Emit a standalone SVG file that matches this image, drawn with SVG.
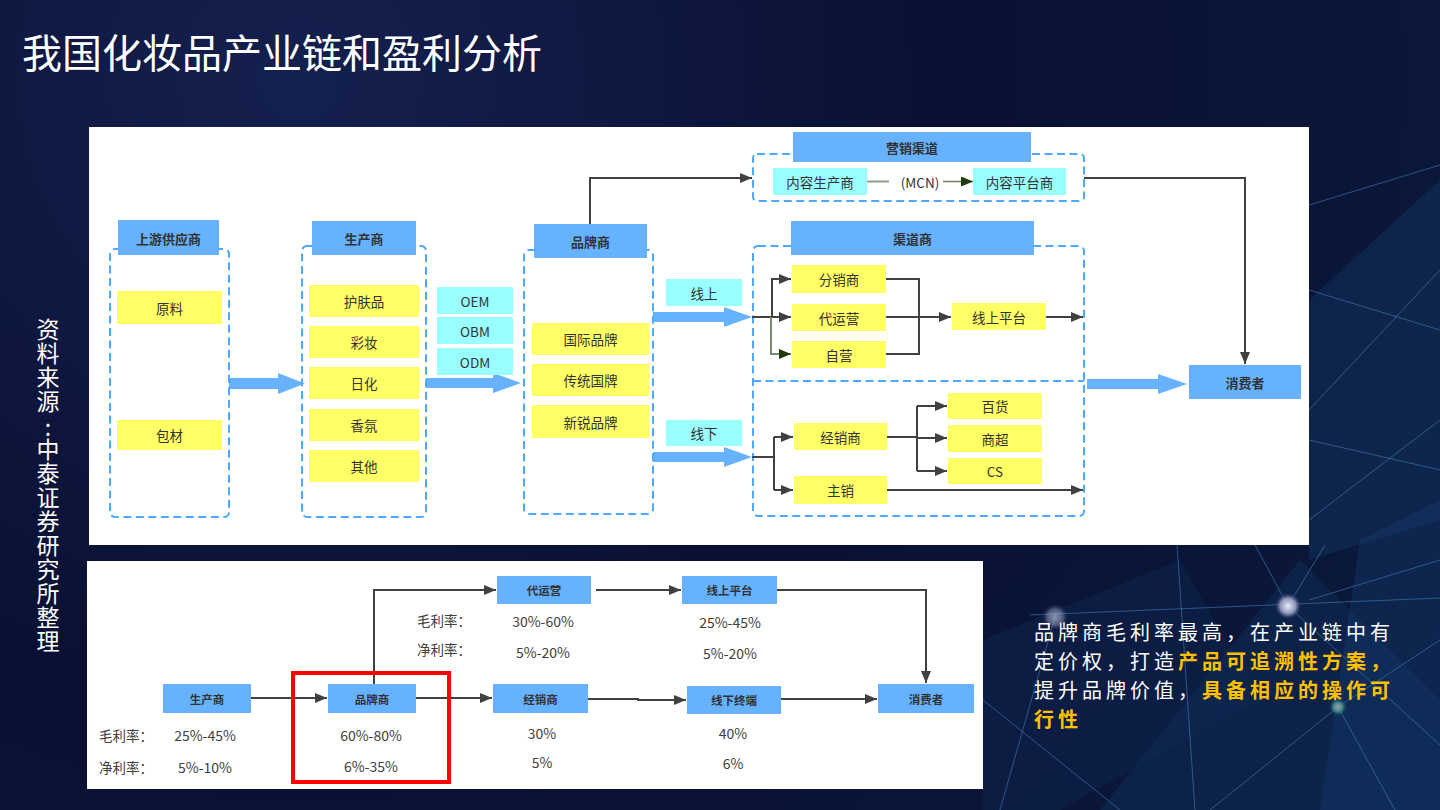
<svg xmlns="http://www.w3.org/2000/svg" width="1440" height="810" viewBox="0 0 1440 810">
<defs>
<radialGradient id="bg" cx="300" cy="80" r="1300" gradientUnits="userSpaceOnUse">
<stop offset="0" stop-color="#14204e"/>
<stop offset="0.5" stop-color="#0a1033"/>
<stop offset="1" stop-color="#0a1a3c"/>
</radialGradient>
<radialGradient id="glowW" cx="0.5" cy="0.5" r="0.5">
<stop offset="0" stop-color="#e8eef8"/>
<stop offset="0.6" stop-color="#8a93b8"/>
<stop offset="1" stop-color="#3a4270" stop-opacity="0"/>
</radialGradient>
<radialGradient id="glowT" cx="0.5" cy="0.5" r="0.5">
<stop offset="0" stop-color="#b09aa0"/>
<stop offset="0.5" stop-color="#3a8a90"/>
<stop offset="1" stop-color="#1a4a60" stop-opacity="0"/>
</radialGradient>
<marker id="ah" viewBox="0 0 12 10" refX="12" refY="5" markerWidth="12" markerHeight="10" markerUnits="userSpaceOnUse" orient="auto">
<path d="M0,0 L12,5 L0,10 z" fill="#404040"/>
</marker>
<marker id="ahg" viewBox="0 0 12 10" refX="12" refY="5" markerWidth="12" markerHeight="10" markerUnits="userSpaceOnUse" orient="auto">
<path d="M0,0 L12,5 L0,10 z" fill="#1f3a08"/>
</marker>
</defs>
<style>
.t{font-family:"Noto Sans CJK SC","Noto Sans",sans-serif;}
.vt{font-family:"Noto Sans CJK SC","Noto Sans",sans-serif;font-size:23px;fill:#ffffff;writing-mode:vertical-rl;text-orientation:upright;letter-spacing:1px;}
.lbl{font-family:"Noto Sans CJK SC","Noto Sans",sans-serif;font-size:13.5px;fill:#333;text-anchor:middle;dominant-baseline:central;}
.hd{font-family:"Noto Sans CJK SC","Noto Sans",sans-serif;font-size:13px;font-weight:bold;fill:#333;text-anchor:middle;dominant-baseline:central;}
.hd2{font-family:"Noto Sans CJK SC","Noto Sans",sans-serif;font-size:11.5px;font-weight:bold;fill:#333;text-anchor:middle;dominant-baseline:central;}
.val{font-family:"Noto Sans CJK SC","Noto Sans",sans-serif;font-size:14px;fill:#404040;text-anchor:middle;dominant-baseline:central;}
.key{font-family:"Noto Sans CJK SC","Noto Sans",sans-serif;font-size:13.5px;fill:#404040;dominant-baseline:central;}
.hdr{fill:#66b2ff;}
.yel{fill:#ffff66;}
.cyn{fill:#99ffff;}
.dash{fill:none;stroke:#4fa8ff;stroke-width:2;stroke-dasharray:8 4.5;}
.blk{fill:#66b2ff;}
.c{fill:none;stroke:#404040;stroke-width:2;}
.bgl{stroke:#4a86c0;stroke-width:1;opacity:0.55;fill:none;}
.cl{font-family:"Noto Sans CJK SC","Noto Sans",sans-serif;font-size:20px;letter-spacing:4px;fill:#ffffff;}
.hl{fill:#ffc000;font-weight:bold;}
</style>

<!-- background -->
<rect x="0" y="0" width="1440" height="810" fill="url(#bg)"/>
<g id="background-decor">
<polygon points="1309,300 1440,180 1440,520 1309,560" fill="#1c4a82" opacity="0.25"/>
<polygon points="1360,540 1440,500 1440,810 1320,810" fill="#1a4a86" opacity="0.25"/>
<polygon points="1100,810 1300,560 1440,700 1440,810" fill="#143a6e" opacity="0.3"/>
<polygon points="983,640 1180,560 1260,700 1060,810 983,810" fill="#112a5a" opacity="0.35"/>
<line class="bgl" x1="1030" y1="615" x2="1440" y2="598"/>
<line class="bgl" x1="1288" y1="606" x2="1255" y2="545"/>
<line class="bgl" x1="1288" y1="606" x2="1325" y2="545"/>
<line class="bgl" x1="1288" y1="606" x2="1440" y2="745"/>
<line class="bgl" x1="1177" y1="545" x2="1195" y2="810"/>
<line class="bgl" x1="1338" y1="707" x2="1210" y2="810"/>
<line class="bgl" x1="1338" y1="707" x2="1395" y2="810"/>
<line class="bgl" x1="1338" y1="707" x2="1440" y2="640"/>
<line class="bgl" x1="983" y1="700" x2="1120" y2="810"/>
<line class="bgl" x1="1055" y1="617" x2="1000" y2="810"/>
<line class="bgl" x1="1309" y1="410" x2="1440" y2="270"/>
<line class="bgl" x1="1309" y1="205" x2="1440" y2="165"/>
<line class="bgl" x1="1309" y1="520" x2="1440" y2="420"/>
<line class="bgl" x1="1309" y1="290" x2="1440" y2="330"/>
<line class="bgl" x1="1309" y1="600" x2="1440" y2="560"/>
<line class="bgl" x1="1309" y1="440" x2="1440" y2="470"/>
<circle cx="1288" cy="606" r="13" fill="url(#glowW)"/>
<circle cx="1055" cy="617" r="13" fill="url(#glowW)" opacity="0.55"/>
<circle cx="1338" cy="707" r="9" fill="url(#glowT)"/>
</g>

<!-- title and source -->
<text class="t" x="22" y="68" font-size="40" fill="#ffffff">我国化妆品产业链和盈利分析</text>
<g id="source">
<text class="vt" x="48" y="318">资料来源</text>
<text class="t" x="48" y="426" font-size="23" fill="#ffffff" text-anchor="middle" dominant-baseline="central">:</text>
<text class="vt" x="48" y="438">中泰证券研究所整理</text>
</g>

<!-- top panel -->
<rect x="89" y="127" width="1220" height="418" fill="#ffffff"/>

<g id="block-arrows">
<polygon class="blk" points="229,378 278,378 278,373 305,383.5 278,394 278,389 229,389"/>
<polygon class="blk" points="426,378 493,378 493,373 521,383 493,393 493,388 426,388"/>
<polygon class="blk" points="653,312 724,312 724,307 752,317 724,327 724,322 653,322"/>
<polygon class="blk" points="653,452 724,452 724,447 752,457 724,467 724,462 653,462"/>
<polygon class="blk" points="1087,379 1158,379 1158,374 1187,384 1158,394 1158,389 1087,389"/>
</g>

<g id="supplier">
<rect class="dash" x="110" y="249" width="119" height="268" rx="5"/>
<rect class="hdr" x="118" y="220" width="101" height="35"/>
<text class="hd" x="168.5" y="238">上游供应商</text>
<rect class="yel" x="117" y="291" width="105" height="33"/>
<text class="lbl" x="169.5" y="307.5">原料</text>
<rect class="yel" x="117" y="420" width="105" height="30"/>
<text class="lbl" x="169.5" y="435">包材</text>
</g>

<g id="manufacturer">
<rect class="dash" x="302" y="246" width="124" height="271" rx="5"/>
<rect class="hdr" x="312" y="221" width="104" height="34"/>
<text class="hd" x="364" y="238">生产商</text>
<rect class="yel" x="309" y="285" width="110" height="32"/>
<text class="lbl" x="364" y="301">护肤品</text>
<rect class="yel" x="309" y="326" width="110" height="32"/>
<text class="lbl" x="364" y="342">彩妆</text>
<rect class="yel" x="309" y="367" width="110" height="32"/>
<text class="lbl" x="364" y="383">日化</text>
<rect class="yel" x="309" y="409" width="110" height="32"/>
<text class="lbl" x="364" y="425">香氛</text>
<rect class="yel" x="309" y="450" width="110" height="32"/>
<text class="lbl" x="364" y="466">其他</text>
</g>

<g id="oem-modes">
<rect class="cyn" x="437" y="287" width="76" height="27"/>
<text class="lbl" x="475" y="300.5" font-size="14">OEM</text>
<rect class="cyn" x="437" y="317" width="76" height="27"/>
<text class="lbl" x="475" y="330.5" font-size="14">OBM</text>
<rect class="cyn" x="437" y="348" width="76" height="27"/>
<text class="lbl" x="475" y="361.5" font-size="14">ODM</text>
</g>

<g id="brand">
<rect class="dash" x="524" y="250" width="129" height="264" rx="5"/>
<rect class="hdr" x="534" y="224" width="113" height="34"/>
<text class="hd" x="590.5" y="241">品牌商</text>
<rect class="yel" x="532" y="323" width="117" height="32"/>
<text class="lbl" x="590.5" y="339">国际品牌</text>
<rect class="yel" x="532" y="364" width="117" height="32"/>
<text class="lbl" x="590.5" y="380">传统国牌</text>
<rect class="yel" x="532" y="405" width="117" height="33"/>
<text class="lbl" x="590.5" y="421.5">新锐品牌</text>
</g>

<g id="online-offline-tags">
<rect class="cyn" x="666" y="279" width="76" height="27"/>
<text class="lbl" x="704" y="292.5">线上</text>
<rect class="cyn" x="666" y="420" width="76" height="26"/>
<text class="lbl" x="704" y="433">线下</text>
</g>

<g id="marketing">
<rect class="dash" x="753" y="154" width="331" height="47" rx="4"/>
<rect class="hdr" x="793" y="132" width="238" height="30"/>
<text class="hd" x="912" y="147">营销渠道</text>
<rect class="cyn" x="773" y="168" width="94" height="27"/>
<text class="lbl" x="820" y="181.5">内容生产商</text>
<text class="lbl" x="920" y="182" font-size="14">(MCN)</text>
<rect class="cyn" x="973" y="168" width="93" height="27"/>
<text class="lbl" x="1019.5" y="181.5">内容平台商</text>
</g>

<g id="channel">
<rect class="dash" x="753" y="246" width="331" height="270" rx="5"/>
<line class="dash" x1="753" y1="381" x2="1084" y2="381"/>
<rect class="hdr" x="791" y="221" width="243" height="34"/>
<text class="hd" x="912.5" y="238">渠道商</text>
<rect class="yel" x="792" y="265" width="94" height="28"/>
<text class="lbl" x="839" y="279">分销商</text>
<rect class="yel" x="792" y="304" width="94" height="27"/>
<text class="lbl" x="839" y="317.5">代运营</text>
<rect class="yel" x="792" y="341" width="94" height="27"/>
<text class="lbl" x="839" y="354.5">自营</text>
<rect class="yel" x="952" y="303" width="94" height="27"/>
<text class="lbl" x="999" y="316.5">线上平台</text>
<rect class="yel" x="794" y="423" width="93" height="27"/>
<text class="lbl" x="840.5" y="436.5">经销商</text>
<rect class="yel" x="794" y="476" width="93" height="28"/>
<text class="lbl" x="840.5" y="490">主销</text>
<rect class="yel" x="948" y="393" width="94" height="26"/>
<text class="lbl" x="995" y="406">百货</text>
<rect class="yel" x="948" y="425" width="94" height="27"/>
<text class="lbl" x="995" y="438.5">商超</text>
<rect class="yel" x="948" y="458" width="94" height="26"/>
<text class="lbl" x="995" y="471">CS</text>
</g>

<g id="consumer">
<rect class="hdr" x="1189" y="365" width="112" height="34"/>
<text class="hd" x="1245" y="382">消费者</text>
</g>

<g id="connectors-top">
<path class="c" d="M590,224 V178 H752" marker-end="url(#ah)"/>
<path class="c" d="M1084,178 H1245 V364" marker-end="url(#ah)"/>
<path d="M867,181.5 H889" stroke="#8f9c86" stroke-width="2" fill="none"/>
<path d="M943,181.5 H973" stroke="#6e7f60" stroke-width="1.5" fill="none" marker-end="url(#ahg)"/>
<path class="c" d="M752,317 H791" marker-end="url(#ah)"/>
<path class="c" d="M772,317 V279 H791" marker-end="url(#ah)"/>
<path d="M771,317 V354 H791" stroke="#7d8c6e" stroke-width="2" fill="none" marker-end="url(#ahg)"/>
<path class="c" d="M886,279 H919 V354 H886"/>
<path class="c" d="M886,317 H951" stroke-width="2.5" marker-end="url(#ah)"/>
<path class="c" d="M1046,317 H1083" marker-end="url(#ah)"/>
<path class="c" d="M752,457 H774"/>
<path class="c" d="M774,437 V490"/>
<path class="c" d="M774,437 H793" marker-end="url(#ah)"/>
<path class="c" d="M774,490 H793" marker-end="url(#ah)"/>
<path class="c" d="M887,437 H917" stroke-width="3.5"/>
<path class="c" d="M917,406 V471"/>
<path class="c" d="M917,406 H947" marker-end="url(#ah)"/>
<path class="c" d="M917,438 H947" marker-end="url(#ah)"/>
<path class="c" d="M917,471 H947" marker-end="url(#ah)"/>
<path class="c" d="M887,490 H1083" marker-end="url(#ah)"/>
</g>

<!-- bottom panel -->
<rect x="87" y="561" width="896" height="228" fill="#ffffff"/>

<g id="b-manufacturer">
<rect class="hdr" x="163" y="684" width="88" height="29"/>
<text class="hd2" x="207" y="698.5">生产商</text>
</g>
<g id="b-brand">
<rect class="hdr" x="328" y="684" width="88" height="29"/>
<text class="hd2" x="372" y="698.5">品牌商</text>
</g>
<g id="b-operator">
<rect class="hdr" x="497" y="576" width="94" height="28"/>
<text class="hd2" x="544" y="590">代运营</text>
</g>
<g id="b-online">
<rect class="hdr" x="682" y="576" width="95" height="28"/>
<text class="hd2" x="729.5" y="590">线上平台</text>
</g>
<g id="b-dealer">
<rect class="hdr" x="493" y="684" width="95" height="29"/>
<text class="hd2" x="540.5" y="698.5">经销商</text>
</g>
<g id="b-offline">
<rect class="hdr" x="687" y="686" width="94" height="28"/>
<text class="hd2" x="734" y="700">线下终端</text>
</g>
<g id="b-consumer">
<rect class="hdr" x="878" y="684" width="96" height="29"/>
<text class="hd2" x="926" y="698.5">消费者</text>
</g>

<g id="connectors-bottom">
<path class="c" d="M251,698 H327" marker-end="url(#ah)"/>
<path class="c" d="M374,684 V590 H496" marker-end="url(#ah)"/>
<path class="c" d="M416,698 H492" marker-end="url(#ah)"/>
<path class="c" d="M596,590 H681" marker-end="url(#ah)"/>
<path class="c" d="M777,590 H926 V683" marker-end="url(#ah)"/>
<path class="c" d="M588,699 H638 V700 H686" marker-end="url(#ah)"/>
<path class="c" d="M781,699 H877" marker-end="url(#ah)"/>
</g>

<rect id="highlight" x="293" y="673" width="156" height="109" fill="none" stroke="#ff0000" stroke-width="4"/>

<g id="margins">
<text class="key" x="99" y="735">毛利率：</text>
<text class="key" x="99" y="767">净利率：</text>
<text class="val" x="205" y="735">25%-45%</text>
<text class="val" x="205" y="767">5%-10%</text>
<text class="val" x="371" y="735">60%-80%</text>
<text class="val" x="371" y="766">6%-35%</text>
<text class="key" x="417" y="620">毛利率：</text>
<text class="key" x="417" y="649">净利率：</text>
<text class="val" x="543" y="621">30%-60%</text>
<text class="val" x="543" y="652">5%-20%</text>
<text class="val" x="730" y="622">25%-45%</text>
<text class="val" x="730" y="653">5%-20%</text>
<text class="val" x="542" y="733">30%</text>
<text class="val" x="542" y="762">5%</text>
<text class="val" x="733" y="733">40%</text>
<text class="val" x="733" y="763">6%</text>
</g>

<!-- conclusion text -->
<g id="conclusion">
<text class="cl" x="1034" y="640">品牌商毛利率最高，在产业链中有</text>
<text class="cl" x="1034" y="669">定价权，打造<tspan class="hl">产品可追溯性方案，</tspan></text>
<text class="cl" x="1034" y="698">提升品牌价值，<tspan class="hl">具备相应的操作可</tspan></text>
<text class="cl hl" x="1034" y="727">行性</text>
</g>
</svg>
